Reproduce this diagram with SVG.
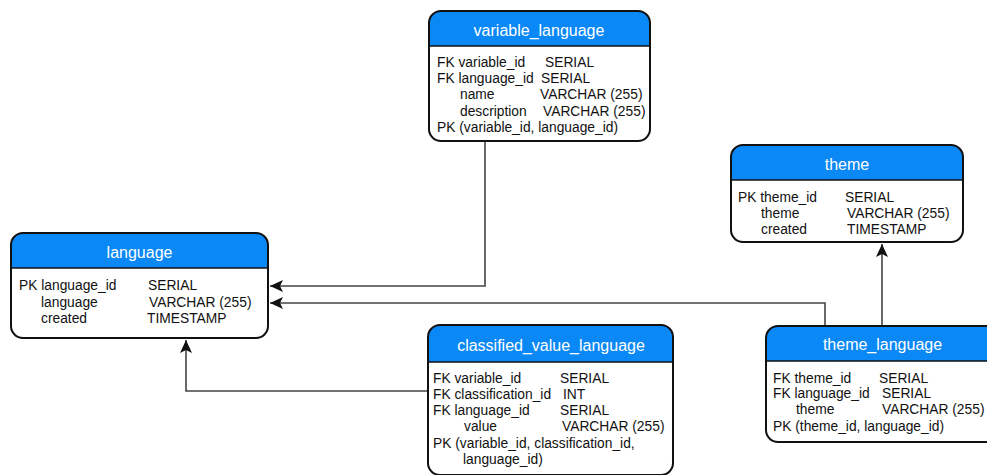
<svg xmlns="http://www.w3.org/2000/svg" width="987" height="475" viewBox="0 0 987 475">
<style>
.box{fill:#fff;stroke:none}
.hdr{fill:#0a88f6;stroke:none}
.outline{fill:none;stroke:#111;stroke-width:2}
.sep{stroke:#111;stroke-width:1.5}
.title{font-family:"Liberation Sans",Arial,sans-serif;font-size:16px;fill:#fff;text-anchor:middle}
.t{font-family:"Liberation Sans",Arial,sans-serif;font-size:13.8px;fill:#111}
.conn{fill:none;stroke:#444;stroke-width:1.6}
</style>
<defs>
<marker id="arr" markerUnits="userSpaceOnUse" markerWidth="14" markerHeight="12" viewBox="0 0 14 12" refX="13" refY="6" orient="auto">
<path d="M0,0 L13,6 L0,12 L3,6 Z" fill="#111"/>
</marker>
</defs>

<g id="connectors">
<path class="conn" d="M485,142 V286 H270" marker-end="url(#arr)"/>
<path class="conn" d="M825,326 V303 H270" marker-end="url(#arr)"/>
<path class="conn" d="M882,326 V244" marker-end="url(#arr)"/>
<path class="conn" d="M428,391 H186 V340" marker-end="url(#arr)"/>
</g>

<g id="variable_language">
<rect class="box" x="429" y="11" width="221" height="130" rx="12"/>
<path class="hdr" d="M429,46 V23 A12,12 0 0 1 441,11 H638 A12,12 0 0 1 650,23 V46 Z"/>
<line class="sep" x1="429" y1="46" x2="650" y2="46"/>
<rect class="outline" x="429" y="11" width="221" height="130" rx="12"/>
<text class="title" x="539" y="36">variable_language</text>
<text class="t" x="437" y="67">FK variable_id</text><text class="t" x="545" y="67">SERIAL</text>
<text class="t" x="437" y="83">FK language_id</text><text class="t" x="541" y="83">SERIAL</text>
<text class="t" x="460" y="99">name</text><text class="t" x="540" y="99">VARCHAR (255)</text>
<text class="t" x="460" y="116">description</text><text class="t" x="543" y="116">VARCHAR (255)</text>
<text class="t" x="437" y="132">PK (variable_id, language_id)</text>
</g>

<g id="language">
<rect class="box" x="11" y="233" width="257" height="105" rx="12"/>
<path class="hdr" d="M11,268 V245 A12,12 0 0 1 23,233 H256 A12,12 0 0 1 268,245 V268 Z"/>
<line class="sep" x1="11" y1="268" x2="268" y2="268"/>
<rect class="outline" x="11" y="233" width="257" height="105" rx="12"/>
<text class="title" x="139.5" y="258">language</text>
<text class="t" x="19" y="290">PK language_id</text><text class="t" x="148" y="290">SERIAL</text>
<text class="t" x="41" y="307">language</text><text class="t" x="149" y="307">VARCHAR (255)</text>
<text class="t" x="41" y="323">created</text><text class="t" x="147" y="323">TIMESTAMP</text>
</g>

<g id="theme">
<rect class="box" x="731" y="145" width="232" height="97" rx="12"/>
<path class="hdr" d="M731,180 V157 A12,12 0 0 1 743,145 H951 A12,12 0 0 1 963,157 V180 Z"/>
<line class="sep" x1="731" y1="180" x2="963" y2="180"/>
<rect class="outline" x="731" y="145" width="232" height="97" rx="12"/>
<text class="title" x="847" y="170">theme</text>
<text class="t" x="738" y="202">PK theme_id</text><text class="t" x="845" y="202">SERIAL</text>
<text class="t" x="761" y="218">theme</text><text class="t" x="847" y="218">VARCHAR (255)</text>
<text class="t" x="761" y="234">created</text><text class="t" x="847" y="234">TIMESTAMP</text>
</g>

<g id="classified_value_language">
<rect class="box" x="428" y="325" width="245" height="150" rx="12"/>
<path class="hdr" d="M428,362 V337 A12,12 0 0 1 440,325 H661 A12,12 0 0 1 673,337 V362 Z"/>
<line class="sep" x1="428" y1="362" x2="673" y2="362"/>
<rect class="outline" x="428" y="325" width="245" height="150" rx="12"/>
<text class="title" x="551" y="351">classified_value_language</text>
<text class="t" x="433" y="383">FK variable_id</text><text class="t" x="560" y="383">SERIAL</text>
<text class="t" x="433" y="399">FK classification_id</text><text class="t" x="563" y="399">INT</text>
<text class="t" x="433" y="415">FK language_id</text><text class="t" x="560" y="415">SERIAL</text>
<text class="t" x="464" y="431">value</text><text class="t" x="562" y="431">VARCHAR (255)</text>
<text class="t" x="433" y="448">PK (variable_id, classification_id,</text>
<text class="t" x="463" y="464">language_id)</text>
</g>

<g id="theme_language">
<rect class="box" x="766" y="326" width="233" height="116" rx="12"/>
<path class="hdr" d="M766,361 V338 A12,12 0 0 1 778,326 H987 A12,12 0 0 1 999,338 V361 Z"/>
<line class="sep" x1="766" y1="361" x2="999" y2="361"/>
<rect class="outline" x="766" y="326" width="233" height="116" rx="12"/>
<text class="title" x="882.5" y="350">theme_language</text>
<text class="t" x="773" y="383">FK theme_id</text><text class="t" x="879" y="383">SERIAL</text>
<text class="t" x="773" y="398">FK language_id</text><text class="t" x="882" y="398">SERIAL</text>
<text class="t" x="796" y="414">theme</text><text class="t" x="882" y="414">VARCHAR (255)</text>
<text class="t" x="773" y="431">PK (theme_id, language_id)</text>
</g>
</svg>
